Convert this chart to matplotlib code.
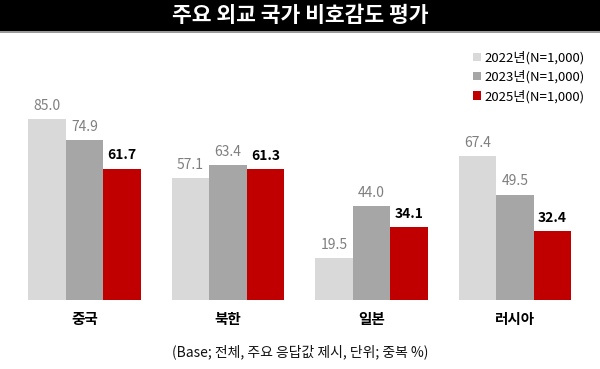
import matplotlib

matplotlib.use("Agg")
import matplotlib.pyplot as plt
import numpy as np
from matplotlib.patches import Rectangle

plt.rcParams["font.family"] = ["Noto Sans CJK KR", "DejaVu Sans"]

countries = ["중국", "북한", "일본", "러시아"]
series_names = ["2022년(N=1,000)", "2023년(N=1,000)", "2025년(N=1,000)"]
v2022 = [85.0, 57.1, 19.5, 67.4]
v2023 = [74.9, 63.4, 44.0, 49.5]
v2025 = [61.7, 61.3, 34.1, 32.4]

colors = ["#d9d9d9", "#a6a6a6", "#c00000"]
label_colors = ["#7f7f7f", "#7f7f7f", "#000000"]
label_weights = ["normal", "normal", "bold"]

fig = plt.figure(figsize=(6.0, 3.69), dpi=100)

# title bar
fig.patches.append(Rectangle((0, 1 - 31 / 369), 1, 31 / 369, transform=fig.transFigure,
                             facecolor="black", edgecolor="none", zorder=0))
fig.patches.append(Rectangle((0, 1 - 33 / 369), 1, 2 / 369, transform=fig.transFigure,
                             facecolor="#9a9a9a", edgecolor="none", zorder=0))
fig.text(0.5, 1 - 16 / 369, "주요 외교 국가 비호감도 평가", color="white",
         fontsize=15.5, fontweight="bold", ha="center", va="center")

ax = fig.add_axes([12.75 / 600, 69 / 369, 574 / 600, 213 / 369])
x = np.arange(len(countries))
width = 0.262
for i, vals in enumerate([v2022, v2023, v2025]):
    pos = x + (i - 1) * width
    bars = ax.bar(pos, vals, width, color=colors[i], label=series_names[i])
    for b, v in zip(bars, vals):
        ax.text(b.get_x() + b.get_width() / 2, v + 3, f"{v:.1f}", ha="center",
                va="bottom", fontsize=10, color=label_colors[i],
                fontweight=label_weights[i])

ax.set_xlim(-0.5, len(countries) - 0.5)
ax.set_ylim(0, 100)
ax.set_xticks(x)
ax.set_xticklabels(countries, fontsize=10.5, fontweight="bold")
ax.tick_params(axis="x", length=0, pad=8)
ax.set_yticks([])
for s in ax.spines.values():
    s.set_visible(False)

leg = fig.legend(loc="upper right", bbox_to_anchor=(0.995, 1 - 39 / 369), frameon=False,
                 fontsize=9.5, handlelength=0.6, handleheight=0.6, handletextpad=0.3,
                 labelspacing=0.45)

fig.text(0.5, 1 - 352 / 369, "(Base; 전체, 주요 응답값 제시, 단위; 중복 %)",
         fontsize=10, ha="center", va="center", color="#111111")

fig.savefig("out.png", dpi=100)
